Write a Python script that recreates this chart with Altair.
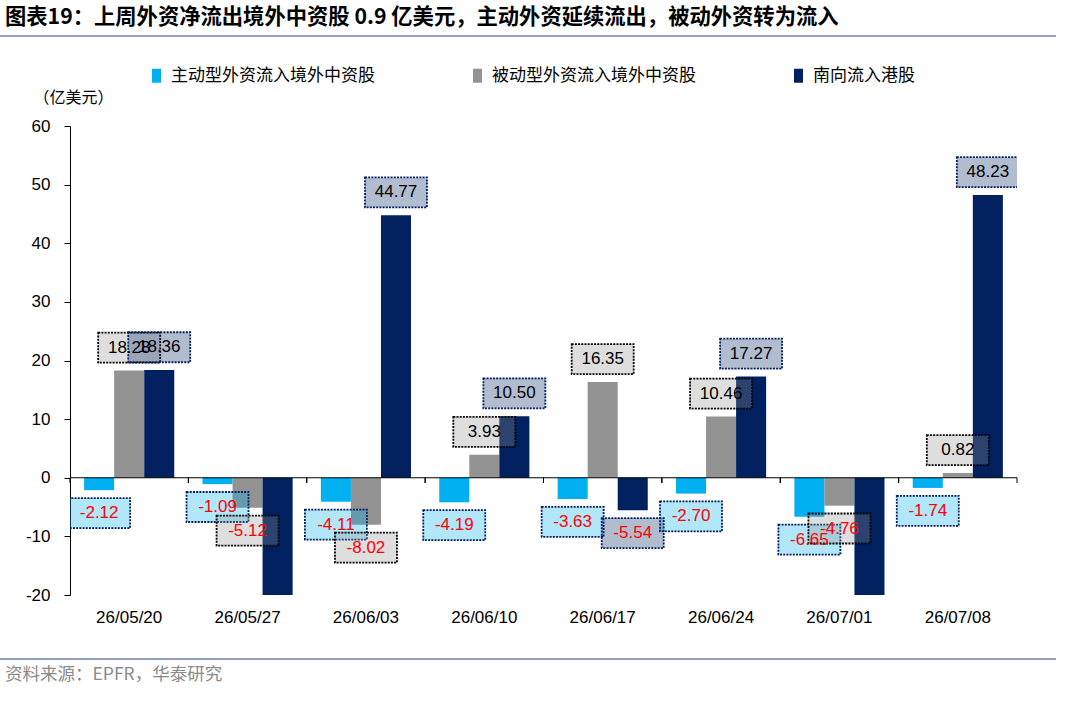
import altair as alt
import pandas as pd

dates = ["26/05/20", "26/05/27", "26/06/03", "26/06/10", "26/06/17", "26/06/24", "26/07/01", "26/07/08"]
series_names = ["主动型外资流入境外中资股", "被动型外资流入境外中资股", "南向流入港股"]
active = [-2.12, -1.09, -4.11, -4.19, -3.63, -2.70, -6.65, -1.74]
passive = [18.28, -5.12, -8.02, 3.93, 16.35, 10.46, -4.76, 0.82]
southbound = [18.36, -27.4, 44.77, 10.50, -5.54, 17.27, -24.6, 48.23]
colors = ["#00B0F0", "#939393", "#002060"]
y_ticks = [-20, -10, 0, 10, 20, 30, 40, 50, 60]

title_text = "图表19：上周外资净流出境外中资股 0.9 亿美元，主动外资延续流出，被动外资转为流入"
source_text = "资料来源：EPFR，华泰研究"
unit_text = "（亿美元）"

rows = []
for s, vals in zip(series_names, [active, passive, southbound]):
    for d, v in zip(dates, vals):
        rows.append({"date": d, "series": s, "value": v, "label": f"{v:.2f}"})
df = pd.DataFrame(rows)
df_dates = pd.DataFrame({"date": dates})
one = pd.DataFrame({"a": [0]})

NUM_FONT = "Liberation Sans"
CJK_FONT = "Noto Sans CJK SC"


def xenc(band_pos=None):
    kw = {}
    if band_pos is not None:
        kw["bandPosition"] = band_pos
    return alt.X(
        "date:N", sort=dates,
        scale=alt.Scale(domain=dates, paddingInner=0, paddingOuter=0),
        axis=alt.Axis(title=None, labelAngle=0, domain=False, ticks=False,
                      labelPadding=14, labelFont=NUM_FONT, labelFontSize=17,
                      labelColor="black"),
        **kw)


yscale = alt.Scale(domain=[-20, 60], nice=False, zero=False)
yaxis = alt.Axis(values=y_ticks, grid=False, title=unit_text, titleAngle=0,
                 titleX=3, titleY=-29, titleAlign="center", titleBaseline="middle",
                 titleFont=CJK_FONT, titleFontSize=16, titleFontWeight="normal",
                 titleColor="black", domainColor="black", tickColor="black",
                 tickSize=6, labelFont=NUM_FONT, labelFontSize=17,
                 labelColor="black", labelPadding=14,
                 labelExpr="replace(datum.label, '\u2212', '-')")

xoff = alt.XOffset("series:N", sort=series_names,
                   scale=alt.Scale(domain=series_names, paddingOuter=0.47, paddingInner=0))

base = alt.Chart(df)

bars = base.mark_bar(clip=True).encode(
    x=xenc(),
    xOffset=xoff,
    y=alt.Y("value:Q", scale=yscale, axis=yaxis),
    color=alt.Color("series:N", scale=alt.Scale(domain=series_names, range=colors),
                    legend=alt.Legend(orient="none", legendX=78, legendY=-59,
                                      direction="horizontal", title=None,
                                      symbolType="M-0.64,-1L0.64,-1L0.64,1L-0.64,1Z",
                                      symbolSize=196, symbolStrokeWidth=0,
                                      labelFont=CJK_FONT, labelFontSize=17,
                                      labelColor="black", columnPadding=94,
                                      labelLimit=400, padding=0, labelOffset=6)),
)

lab = base.transform_calculate(
    label_y="datum.value >= 0 ? datum.value + 3.9 : datum.value - 3.9"
)

boxes = lab.mark_point(
    shape="M-1,-0.484L1,-0.484L1,0.484L-1,0.484Z", size=3844, filled=True,
    opacity=1, fillOpacity=0.3, strokeOpacity=1, strokeWidth=1.8,
    strokeDash=[2, 1.2], clip=True,
).encode(
    x=xenc(),
    xOffset=xoff,
    y=alt.Y("label_y:Q", scale=yscale),
    fill=alt.Fill("series:N", scale=alt.Scale(domain=series_names, range=colors), legend=None),
    stroke=alt.condition(alt.datum.series == series_names[1], alt.value("#000000"), alt.value("#002060")),
)

texts = lab.mark_text(font=NUM_FONT, fontSize=17, baseline="middle", align="center", clip=True).encode(
    x=xenc(),
    xOffset=xoff,
    y=alt.Y("label_y:Q", scale=yscale),
    text=alt.Text("label:N"),
    color=alt.condition(alt.datum.value < 0, alt.value("#FF0000"), alt.value("#000000")),
)

zero_rule = alt.Chart(one).mark_rule(color="black", strokeWidth=1).encode(y=alt.datum(0))

ticks_a = alt.Chart(df_dates).mark_rule(color="black", strokeWidth=1).encode(
    x=xenc(0), y=alt.datum(0), y2=alt.datum(-0.9))
ticks_b = alt.Chart(df_dates).mark_rule(color="black", strokeWidth=1).encode(
    x=xenc(1), y=alt.datum(0), y2=alt.datum(-0.9))

title = alt.Chart(one).mark_text(text=title_text, font=CJK_FONT, fontSize=21.3,
                                 fontWeight="bold", align="left", baseline="middle",
                                 color="black").encode(x=alt.value(-65), y=alt.value(-108))
hline_top = alt.Chart(one).mark_rule(color="#8FA2C2", strokeWidth=2).encode(
    x=alt.value(-70), x2=alt.value(986), y=alt.value(-90))
hline_bot = alt.Chart(one).mark_rule(color="#8FA2C2", strokeWidth=2).encode(
    x=alt.value(-70), x2=alt.value(986), y=alt.value(533))
source = alt.Chart(one).mark_text(text=source_text, font=CJK_FONT, fontSize=17.5,
                                  align="left", baseline="middle",
                                  color="#8A8A8A").encode(x=alt.value(-65), y=alt.value(549))

chart = alt.layer(
    bars, boxes, texts, zero_rule, ticks_a, ticks_b, title, hline_top, hline_bot, source
).properties(
    width=947, height=469,
    padding={"left": 70, "top": 126, "right": 49, "bottom": 109},
    autosize=alt.AutoSizeParams(type="none"),
    background="white",
).configure_view(stroke=None)

chart.save("out.html", embed_options={"renderer": "svg", "actions": False})
